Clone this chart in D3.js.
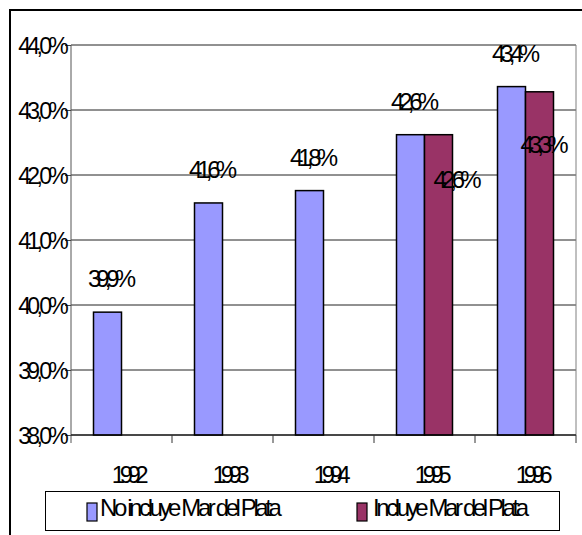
<!DOCTYPE html>
<html>
<head>
<meta charset="utf-8">
<script src="https://cdn.jsdelivr.net/npm/d3@7"></script>
<style>
  body { margin: 0; background: #fff; }
  text { font-family: "Liberation Sans", Arial, sans-serif; fill: #000; }
</style>
</head>
<body>
<div id="containerbar"></div>
<script>
// data
var years = ["1992", "1993", "1994", "1995", "1996"];
var seriesNames = ["No incluye Mar del Plata", "Incluye Mar del Plata"];
var noIncluye = [39.89, 41.57, 41.76, 42.62, 43.36];
var incluye = [null, null, null, 42.62, 43.28];
var yTicks = [38, 39, 40, 41, 42, 43, 44];
var colors = ["#9999ff", "#993366"];

// hand placed label nudges for second series (as in the original sheet)
var labelNudgeX = [0, 0, 0, 9, -5];
var labelNudgeY = [0, 0, 0, 53, 61];

var width = 582, height = 535;
var margin = {top: 45, right: 6, bottom: 100, left: 71};

var svg = d3.select("#containerbar").append("svg")
    .attr("width", width)
    .attr("height", height);

// outer chart frame (runs off the picture right and bottom)
svg.append("rect")
    .attr("x", 10).attr("y", 10)
    .attr("width", 640).attr("height", 640)
    .attr("fill", "none")
    .attr("stroke", "#000")
    .attr("stroke-width", 2);

var x = d3.scaleBand()
    .domain(years)
    .range([margin.left, width - margin.right]);

var x1 = d3.scaleBand()
    .domain([0, 1])
    .range([22.5, x.bandwidth() - 22.5]);

var y = d3.scaleLinear()
    .domain([38, 44])
    .range([height - margin.bottom, margin.top]);

// gridlines
svg.append("g")
    .selectAll("line")
    .data(yTicks).enter()
    .append("line")
    .attr("x1", margin.left)
    .attr("x2", width - margin.right)
    .attr("y1", function(d) { return y(d); })
    .attr("y2", function(d) { return y(d); })
    .attr("stroke", "#222")
    .attr("stroke-width", 1);

// plot area right border
svg.append("line")
    .attr("x1", width - margin.right).attr("x2", width - margin.right)
    .attr("y1", y(44)).attr("y2", y(38))
    .attr("stroke", "#808080");

// bars
var rows = years.map(function(yr, i) {
  return {year: yr, i: i, values: [noIncluye[i], incluye[i]]};
});

var groups = svg.append("g").selectAll("g")
    .data(rows).enter()
    .append("g")
    .attr("transform", function(d) { return "translate(" + x(d.year) + ",0)"; });

groups.selectAll("rect")
    .data(function(d) {
      return d.values.map(function(v, s) { return {v: v, s: s, i: d.i}; })
        .filter(function(e) { return e.v != null; });
    }).enter()
    .append("rect")
    .attr("x", function(d) { return x1(d.s); })
    .attr("width", x1.bandwidth())
    .attr("y", function(d) { return y(d.v); })
    .attr("height", function(d) { return y(38) - y(d.v); })
    .attr("fill", function(d) { return colors[d.s]; })
    .attr("stroke", "#000")
    .attr("stroke-width", 1.5);

// value labels
var fmt = function(v) { return d3.format(".1f")(v).replace(".", ",") + "%"; };

groups.selectAll("text.val")
    .data(function(d) {
      return d.values.map(function(v, s) { return {v: v, s: s, i: d.i}; })
        .filter(function(e) { return e.v != null; });
    }).enter()
    .append("text")
    .attr("class", "val")
    .attr("x", function(d) {
      if (d.s == 0) return x1(d.s) + x1.bandwidth() / 2 + 2;
      return x1(d.s) + labelNudgeX[d.i];
    })
    .attr("y", function(d) {
      if (d.s == 0) return y(d.v) - 25;
      return y(d.v) + labelNudgeY[d.i];
    })
    .attr("text-anchor", function(d) { return d.s == 0 ? "middle" : "start"; })
    .style("font-size", "24px")
    .style("letter-spacing", "-5px")
    .text(function(d) { return fmt(d.v); });

// y axis
var yAxis = svg.append("g")
    .attr("transform", "translate(" + margin.left + ",0)")
    .call(d3.axisLeft(y).tickValues(yTicks).tickSize(6).tickPadding(3)
      .tickFormat(function(d) { return d3.format(".1f")(d).replace(".", ",") + "%"; }));
yAxis.select(".domain").attr("stroke", "#555").attr("d", "M0," + y(44) + "V" + (y(38) + 8));
yAxis.selectAll(".tick line").attr("stroke", "#444");
yAxis.selectAll(".tick text")
    .style("font-size", "23px")
    .style("letter-spacing", "-3.7px")
    .attr("dx", "3px")
    .attr("dy", "0.35em");

// x axis: ticks sit on category boundaries
svg.append("line")
    .attr("x1", margin.left).attr("x2", width - margin.right)
    .attr("y1", y(38)).attr("y2", y(38))
    .attr("stroke", "#000");

svg.append("g")
    .selectAll("line")
    .data(years.slice(1)).enter()
    .append("line")
    .attr("x1", function(d) { return x(d); })
    .attr("x2", function(d) { return x(d); })
    .attr("y1", y(38))
    .attr("y2", y(38) + 8)
    .attr("stroke", "#333");

svg.append("line")
    .attr("x1", width - margin.right).attr("x2", width - margin.right)
    .attr("y1", y(38)).attr("y2", y(38) + 8)
    .attr("stroke", "#333");

svg.append("g")
    .selectAll("text")
    .data(years).enter()
    .append("text")
    .attr("x", function(d) { return x(d) + x.bandwidth() / 2 + 6; })
    .attr("y", y(38) + 48)
    .attr("text-anchor", "middle")
    .style("font-size", "24px")
    .style("letter-spacing", "-5.5px")
    .text(function(d) { return d; });

// legend
var legend = svg.append("g");
legend.append("rect")
    .attr("x", 45.5).attr("y", 491.5)
    .attr("width", 514).attr("height", 39)
    .attr("fill", "#fff")
    .attr("stroke", "#000");

var legendX = [87, 357];
var items = legend.selectAll("g")
    .data(seriesNames).enter()
    .append("g")
    .attr("transform", function(d, i) { return "translate(" + legendX[i] + ",503)"; });

items.append("rect")
    .attr("width", 10).attr("height", 18)
    .attr("fill", function(d, i) { return colors[i]; })
    .attr("stroke", "#000")
    .attr("stroke-width", 1.2);

items.append("text")
    .attr("x", function(d, i) { return i == 0 ? 13 : 16; })
    .attr("y", 12.5)
    .style("font-size", "24px")
    .style("letter-spacing", "-3.4px")
    .text(function(d) { return d; });
</script>
</body>
</html>
